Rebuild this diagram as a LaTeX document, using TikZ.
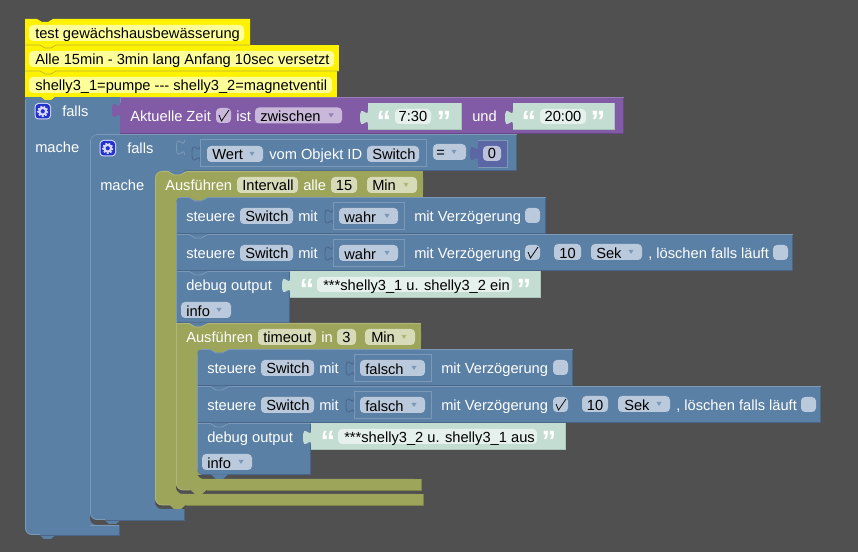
\documentclass[tikz,border=0pt]{standalone}
\usepackage{fontspec}
\setmainfont{Liberation Sans}
\definecolor{bgc}{HTML}{505050}
\definecolor{bl}{HTML}{5B80A5}
\definecolor{bll}{HTML}{7C99B7}
\definecolor{bld}{HTML}{49668A}
\definecolor{blf}{HTML}{BAC9DB}
\definecolor{pu}{HTML}{815BA5}
\definecolor{pul}{HTML}{9A7CB7}
\definecolor{pud}{HTML}{674884}
\definecolor{puf}{HTML}{C9B8DA}
\definecolor{ol}{HTML}{9DA55B}
\definecolor{oll}{HTML}{B1B77C}
\definecolor{old}{HTML}{7E8449}
\definecolor{olf}{HTML}{D8DBB8}
\definecolor{gr}{HTML}{C3DDD3}
\definecolor{grl}{HTML}{E6F1ED}
\definecolor{grd}{HTML}{A9C4B9}
\definecolor{yf}{HTML}{FFFF99}
\definecolor{nb}{HTML}{5B67A5}
\definecolor{nbf}{HTML}{BDC2DB}
\definecolor{gearc}{HTML}{2233CC}
\tikzset{x=0.75pt,y=-0.75pt,
  lab/.style={text=white,inner sep=0pt,anchor=base west,yshift=-0.5pt,font=\fontsize{11pt}{13pt}\selectfont},
  dark/.style={text=black,inner sep=0pt,anchor=base west,yshift=-0.5pt,font=\fontsize{11pt}{13pt}\selectfont},
  darkc/.style={text=black,inner sep=0pt,anchor=base,yshift=-0.5pt,font=\fontsize{11pt}{13pt}\selectfont},
  quot/.style={text=white,inner sep=0pt,anchor=center,font=\fontsize{22pt}{22pt}\selectfont\bfseries}}
\newcommand{\blk}[7]{\fill[#1] (#4,#5) rectangle (#6,#7);
  \draw[#3,line width=0.6pt] (#4,#7-.5) -- (#6-.5,#7-.5) -- (#6-.5,#5);
  \draw[#2,line width=0.5pt] (#4,#5+.5) -- (#6,#5+.5);}
% notch at top of block, filled with the colour of the block above
\newcommand{\ntch}[4]{\fill[#1] (#3+14,#4) -- (#3+19,#4+3.5) -- (#3+25,#4+3.5) -- (#3+31,#4) -- (#3+31,#4+1) -- (#3+14,#4+1) -- cycle;
  \fill[#1] (#3+14,#4-.2) -- (#3+31,#4-.2) -- (#3+31,#4+1) -- (#3+25,#4+3.5) -- (#3+19,#4+3.5) -- (#3+14,#4+1) -- cycle;
  \draw[#2,line width=.6pt] (#3+14,#4+1) -- (#3+19,#4+4) -- (#3+25,#4+4) -- (#3+31,#4+1);}
\newcommand{\tb}[3]{\fill[#1] (#2+14,#3-.5) -- (#2+19,#3+4) -- (#2+26,#3+4) -- (#2+31,#3-.5) -- cycle;}
\newcommand{\ctl}[3]{\fill[#1] (#2,#3) -- (#2+5,#3) .. controls (#2+2,#3) and (#2,#3+2) .. (#2,#3+5) -- cycle;}
\newcommand{\cbl}[3]{\fill[#1] (#2,#3) -- (#2+5,#3) .. controls (#2+2,#3) and (#2,#3-2) .. (#2,#3-5) -- cycle;}
\newcommand{\fld}[4]{\fill[#1,rounded corners=3pt] (#2,#4) rectangle (#3,#4+16);}
\newcommand{\arr}[3]{\fill[#3] (#1-2.5,#2-2) -- (#1+2.5,#2-2) -- (#1,#2+2) -- cycle;}
\newcommand{\chk}[3]{\fill[blf,rounded corners=3pt] (#1,#2) rectangle (#1+15,#2+15);
  \ifnum#3=1 \draw[black,line width=.55pt] (#1+3,#2+7) -- (#1+5.5,#2+13) -- (#1+13,#2+2);\fi}
\newcommand{\tabp}[3]{\fill[#1] (#2+.5,#3) -- (#2,#3) .. controls (#2,#3+10) and (#2-8,#3-8) .. (#2-8,#3+7.5) .. controls (#2-8,#3+23) and (#2,#3+5) .. (#2,#3+15) -- (#2+.5,#3+15) -- cycle;}
\newcommand{\soc}[3]{\draw[#1,line width=.6pt] (#2,#3) .. controls (#2,#3+10) and (#2-8,#3-8) .. (#2-8,#3+7.5) .. controls (#2-8,#3+23) and (#2,#3+5) .. (#2,#3+15);}
\newcommand{\strb}[7]{\fill[gr] (#1,#3) rectangle (#2,#3+27);
  \draw[grd,line width=.5pt] (#1,#3+26.6) -- (#2-.4,#3+26.6) -- (#2-.4,#3);
  \tabp{gr}{#1}{#3+7}
  \fill[grl,rounded corners=3pt] (#5,#3+6) rectangle (#6,#3+21);
  \node[quot] at (#4,#3+18) {“};
  \node[quot] at (#7,#3+18) {”};}
\newcommand{\gearb}[3]{\begin{scope}[shift={(#1,#2)}]
  \fill[white!85!blue,rounded corners=3pt] (0,0) rectangle (16.5,16.5);
  \fill[gearc,rounded corners=2.5pt] (1,1) rectangle (15.5,15.5);
  \draw[white!85!blue,line width=1.6pt,dash pattern=on 1.2pt off 1.15pt] (8.25,8.25) circle (4.6);
  \draw[white!85!blue,line width=1.6pt] (8.25,8.25) circle (3.4);
  \node[inner sep=0pt] (#3) at (8.25,8.25) {};
  \end{scope}}
\newcommand{\ster}[4]{%
  \begin{scope}[shift={(#1,#2)}]
  \node[lab] (st#1#2a) at (186,221) {steuere};
  \fld{blf}{240}{293}{208}
  \node[dark] (st#1#2b) at (245,221) {Switch};
  \node[lab] (st#1#2c) at (298,221) {mit};
  \soc{bld}{333}{209}
  \draw[bll,line width=.6pt] (333,202.5) rectangle (#4+6,229.5);
  \fld{blf}{339}{#4}{208}
  \node[dark] (st#1#2d) at (344,222) {#3};
  \arr{#4-11}{216}{bll}
  \end{scope}}
\begin{document}
\begin{tikzpicture}
\useasboundingbox (0,0) rectangle (858,552);
\fill[bgc] (0,0) rectangle (858,552);

% outer C
\fill[bl,rounded corners=5pt] (25,97) -- (120,97) -- (120,134) -- (90,134) -- (90,525) -- (119,525) -- (119,535) -- (25,535) -- cycle;
\fill[bl] (25,97) rectangle (40,110);
\fill[bl] (100,97) rectangle (120,134);
\fill[bl] (100,525) rectangle (119,535);
\tb{bl}{25}{535}
\draw[bld,line width=.6pt] (40,535) -- (119,535) -- (119,525);
\draw[bll,line width=.5pt] (90,525.3) -- (119,525.3);
\draw[bll,line width=.5pt,rounded corners=5pt] (25.5,100) -- (25.5,534.5) -- (40,534.5);
% second C
\fill[bl,rounded corners=5pt] (90,134) -- (184,134) -- (184,171) -- (155,171) -- (155,509) -- (184,509) -- (184,520) -- (90,520) -- cycle;
\fill[bl] (165,134) rectangle (184,171);
\fill[bl] (165,509) rectangle (184,520);
\tb{bl}{90}{520}
\draw[bld,line width=.6pt] (105,520.3) -- (184.3,520.3) -- (184.3,509);
\draw[bll,line width=.5pt,rounded corners=5pt] (110,134.5) -- (90.5,134.5) -- (90.5,519.5) -- (105,519.5);
\fill[bl] (184,134) rectangle (517,171);
\draw[bld,line width=.6pt] (184,170.6) -- (516.6,170.6) -- (516.6,134);
\draw[bll,line width=.5pt] (110,134.5) -- (517,134.5);
\soc{bll}{184.5}{140}

% purple
\blk{pu}{pul}{pud}{120}{97}{624}{134}
\draw[pul,line width=.5pt] (120.5,97) -- (120.5,103);
\tabp{pu}{120}{103}
\gearb{34.5}{103}{g1}
\node[lab] (f1) at (62,116) {falls};
\node[lab] (m1) at (35,152) {mache};
\gearb{99.5}{140}{g2}
\node[lab] (f2) at (127,153) {falls};
\node[lab] (m2) at (100,190) {mache};
\node[lab] (az) at (130,121) {Aktuelle Zeit};
\fill[puf,rounded corners=3pt] (216,108) rectangle (231,123);
\draw[black,line width=.55pt] (219,115) -- (221.5,121) -- (229,110);
\node[lab] (ist) at (236,121) {ist};
\fld{puf}{255}{342}{107.5}
\node[dark] (zw) at (260,121) {zwischen};
\arr{331}{115.5}{pul}
\strb{368}{462}{103}{384}{395}{431}{444}
\node[darkc] (t1) at (413,121) {7:30};
\node[lab] (und) at (472,121) {und};
\strb{513}{615}{103}{529}{540}{586}{598}
\node[darkc] (t2) at (563,121) {20:00};

% Wert
\soc{bld}{200}{146}
\draw[bll,line width=.6pt] (200.5,139.5) rectangle (426.5,166.5);
\fld{blf}{207}{263}{146}
\node[dark] (w) at (212,159) {Wert};
\arr{252}{154}{bll}
\node[lab] (vom) at (269,159) {vom Objekt ID};
\fld{blf}{367}{419}{146}
\node[dark] (sw) at (372,159) {Switch};
\fld{blf}{433}{466}{144}
\node[dark] (eq) at (436,157) {=};
\arr{454}{152}{bll}
\tabp{nb}{478}{146}
\fill[nb] (478,140) rectangle (507,167);
\draw[bll,line width=.5pt] (478.3,140.3) -- (507,140.3) -- (507,167) -- (478.3,167);
\fill[nbf,rounded corners=3pt] (483,146) rectangle (501,161);
\node[darkc] (n0) at (492,158) {0};

% outer olive
\fill[ol,rounded corners=5pt] (155,171) -- (423,171) -- (423,197) -- (176,197) -- (176,494) -- (423,494) -- (423,505) -- (155,505) -- cycle;
\fill[ol] (400,171) rectangle (423,197);
\fill[ol] (400,494) rectangle (423,505);
\draw[oll,line width=.5pt,rounded corners=5pt] (170,505) -- (155.5,505) -- (155.5,171.5) -- (300,171.5);
\ntch{bl}{oll}{155}{171}
\tb{ol}{155}{505}
\draw[old,line width=.6pt] (423,494) -- (423,505) -- (186,505);
\node[lab] (a1) at (165,190) {Ausführen};
\fld{olf}{237}{298}{177}
\node[dark] (a2) at (242,190) {Intervall};
\node[lab] (a3) at (303,190) {alle};
\fld{olf}{331}{357}{177}
\node[darkc] (a4) at (344,190) {15};
\fld{olf}{367}{417}{177}
\node[dark] (a5) at (372,190) {Min};
\arr{406}{185}{oll}

% steuere 1, 2
\blk{bl}{bll}{bld}{176}{197}{546}{234}
\ctl{ol}{176}{197}
\ntch{ol}{bll}{176}{197}
\draw[bll,line width=.5pt] (176.5,202) -- (176.5,234);
\ster{0}{0}{wahr}{398}
\node[lab] (v1) at (414,221) {mit Verzögerung};
\chk{525}{208}{0}
\blk{bl}{bll}{bld}{176}{234}{793}{271}
\ntch{bl}{bll}{176}{234}
\draw[bll,line width=.5pt] (176.5,234) -- (176.5,271);
\ster{0}{37}{wahr}{398}
\node[lab] (v2) at (414,258) {mit Verzögerung};
\chk{525}{245}{1}
\fld{blf}{554}{581}{244}
\node[darkc] (z1) at (567.5,258) {10};
\fld{blf}{591}{642}{244}
\node[dark] (se1) at (596,258) {Sek};
\arr{631}{252}{bll}
\node[lab] (l1) at (648,258) {, löschen falls läuft};
\chk{773}{245}{0}

% debug 1
\blk{bl}{bll}{bld}{176}{271}{290}{323}
\ntch{bl}{bll}{176}{271}
\draw[bll,line width=.5pt] (176.5,271) -- (176.5,323);
\node[lab] (d1) at (186,290) {debug output};
\strb{290}{541}{271}{307}{317}{512}{524}
\node[dark] (ds1) at (323,289.5) {***shelly3\_1 u. shelly3\_2 ein};
\fld{blf}{181}{231}{302}
\node[dark] (i1) at (186,316) {info};
\arr{219}{310}{bll}

% inner olive
\fill[ol,rounded corners=5pt] (176,323) -- (421,323) -- (421,349) -- (197,349) -- (197,479) -- (421,479) -- (421,490) -- (176,490) -- cycle;
\fill[ol] (176,323) rectangle (190,332);
\fill[ol] (400,323) rectangle (421,349);
\fill[ol] (400,479) rectangle (421,490);
\draw[oll,line width=.5pt,rounded corners=5pt] (190,490) -- (176.5,490) -- (176.5,323);
\draw[oll,line width=.5pt] (176,323.5) -- (421,323.5);
\ntch{bl}{oll}{176}{323}
\tb{ol}{176}{490}
\draw[old,line width=.6pt] (421,479) -- (421,490) -- (207,490);
\node[lab] (b1) at (186,342) {Ausführen};
\fld{olf}{258}{316}{329}
\node[dark] (b2) at (263,342) {timeout};
\node[lab] (b3) at (321,342) {in};
\fld{olf}{337}{356}{329}
\node[darkc] (b4) at (346.5,342) {3};
\fld{olf}{365}{415}{329}
\node[dark] (b5) at (371,342) {Min};
\arr{404}{337}{oll}

% steuere 3, 4
\blk{bl}{bll}{bld}{197}{349}{573}{386}
\ctl{ol}{197}{349}
\ntch{ol}{bll}{197}{349}
\draw[bll,line width=.5pt] (197.5,354) -- (197.5,386);
\ster{21}{152}{falsch}{404}
\node[lab] (v3) at (441,373) {mit Verzögerung};
\chk{553}{360}{0}
\blk{bl}{bll}{bld}{197}{386}{821}{423}
\ntch{bl}{bll}{197}{386}
\draw[bll,line width=.5pt] (197.5,386) -- (197.5,423);
\ster{21}{189}{falsch}{404}
\node[lab] (v4) at (441,410) {mit Verzögerung};
\chk{553}{397}{1}
\fld{blf}{582}{608}{396}
\node[darkc] (z2) at (595,410) {10};
\fld{blf}{618}{670}{396}
\node[dark] (se2) at (624,410) {Sek};
\arr{659}{404}{bll}
\node[lab] (l2) at (676,410) {, löschen falls läuft};
\chk{801}{397}{0}

% debug 2
\blk{bl}{bll}{bld}{197}{423}{311}{475}
\ntch{bl}{bll}{197}{423}
\draw[bll,line width=.5pt] (197.5,423) -- (197.5,470);
\cbl{ol}{197}{475}
\tb{bl}{197}{475}
\node[lab] (d2) at (207,442) {debug output};
\strb{311}{566}{423}{328}{338}{537}{549}
\node[dark] (ds2) at (344,441.5) {***shelly3\_2 u. shelly3\_1 aus};
\fld{blf}{202}{252}{454}
\node[dark] (i2) at (207,468) {info};
\arr{241}{462}{bll}

% comments
\fill[yellow] (25,19) -- (37,19) -- (42,22) -- (48,22) -- (53,19) -- (250,19) -- (250,45) -- (25,45) -- cycle;
\fill[yellow] (25,45) rectangle (339,71);
\fill[yellow] (25,71) rectangle (337,97);
\fill[yellow] (40,96) -- (45,100) -- (51,100) -- (56,96) -- cycle;
\draw[black!30!yellow,line width=.5pt] (25,45) -- (40,45) -- (45,48) -- (51,48) -- (56,45) -- (250,45);
\draw[black!30!yellow,line width=.5pt] (25,71) -- (40,71) -- (45,74) -- (51,74) -- (56,71) -- (339,71);
\fill[yf,rounded corners=3pt] (29,25) rectangle (244,41);
\fill[yf,rounded corners=3pt] (29,51) rectangle (334,67);
\fill[yf,rounded corners=3pt] (29,77) rectangle (332,93);
\node[dark] (c1) at (35,38) {test gewächshausbewässerung};
\node[dark] (c2) at (35,64) {Alle 15min - 3min lang Anfang 10sec versetzt};
\node[dark] (c3) at (35,90) {shelly3\_1=pumpe -{}-{}- shelly3\_2=magnetventil};
\end{tikzpicture}
\end{document}
